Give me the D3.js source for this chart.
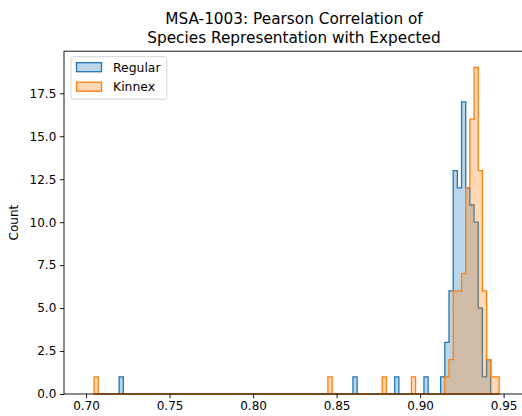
<!DOCTYPE html>
<html>
<head>
<meta charset="utf-8">
<script src="https://cdnjs.cloudflare.com/ajax/libs/d3/7.8.5/d3.min.js"></script>
<style>
  body { margin: 0; background: #fff; }
  svg { display: block; font-family: "DejaVu Sans", sans-serif; }
</style>
</head>
<body>
<div id="chart"></div>
<script>
// histogram bins shared by both series
var binStart = 0.7048;
var binWidth = 0.0025;
var binCount = 97;

// [bin index, count] for the non-empty bins
var regularBins = [[6, 1], [62, 1], [72, 1], [79, 1], [83, 1], [84, 3], [85, 6], [86, 13],
  [87, 12], [88, 17], [89, 12], [90, 11], [91, 10], [92, 5], [93, 1], [94, 2]];
var kinnexBins = [[0, 1], [56, 1], [69, 1], [76, 1], [84, 1], [85, 2], [86, 6], [87, 6],
  [88, 7], [89, 12], [90, 16], [91, 19], [92, 13], [93, 6], [94, 2], [95, 1], [96, 1]];

var seriesNames = ["Regular", "Kinnex"];
var xTicks = [0.70, 0.75, 0.80, 0.85, 0.90, 0.95];
var yTicks = [0, 2.5, 5, 7.5, 10, 12.5, 15, 17.5];
var titleLines = ["MSA-1003: Pearson Correlation of", "Species Representation with Expected"];

(function () {
  'use strict';

  var colours = ["#1f77b4", "#ff7f0e"];

  var width = 522, height = 416;
  var m = { left: 64, right: 524, top: 51.2, bottom: 394 };

  var svg = d3.select("#chart").append("svg")
    .attr("width", width)
    .attr("height", height);

  var x = d3.scaleLinear().domain([0.6868, 0.9622]).range([m.left, m.right]);
  var y = d3.scaleLinear().domain([0, 19.95]).range([m.bottom, m.top]);

  function toCounts(pairs) {
    var counts = new Array(binCount).fill(0);
    pairs.forEach(function(p) { counts[p[0]] = p[1]; });
    return counts;
  }

  function stepPoints(counts) {
    var pts = [[binStart, 0]];
    counts.forEach(function(c, i) {
      var e0 = binStart + i * binWidth;
      pts.push([e0, c]);
      pts.push([e0 + binWidth, c]);
    });
    pts.push([binStart + binCount * binWidth, 0]);
    return pts;
  }

  var line = d3.line()
    .x(function(d) { return x(d[0]); })
    .y(function(d) { return y(d[1]); });

  var plot = svg.append("g");

  [regularBins, kinnexBins].forEach(function(bins, i) {
    plot.append("path")
      .attr("d", line(stepPoints(toCounts(bins))) + "Z")
      .attr("fill", colours[i])
      .attr("fill-opacity", 0.3)
      .attr("stroke", colours[i])
      .attr("stroke-width", 1.3)
      .attr("stroke-linejoin", "miter");
  });

  // axes
  var xAxis = svg.append("g")
    .attr("transform", "translate(0," + m.bottom + ")")
    .call(d3.axisBottom(x).tickValues(xTicks).tickFormat(d3.format(".2f"))
      .tickSize(4.2).tickPadding(3.5).tickSizeOuter(0));

  var yAxis = svg.append("g")
    .attr("transform", "translate(" + m.left + ",0)")
    .call(d3.axisLeft(y).tickValues(yTicks).tickFormat(d3.format(".1f"))
      .tickSize(4.2).tickPadding(3.5).tickSizeOuter(0));

  [xAxis, yAxis].forEach(function(a) {
    a.select(".domain").remove();
    a.selectAll("text").attr("font-size", 12).attr("fill", "#000")
      .attr("font-family", "DejaVu Sans, sans-serif");
    a.selectAll("line").attr("stroke", "#000").attr("stroke-width", 0.9);
  });

  // spines
  svg.append("rect")
    .attr("x", m.left).attr("y", m.top)
    .attr("width", m.right - m.left).attr("height", m.bottom - m.top)
    .attr("fill", "none").attr("stroke", "#000").attr("stroke-width", 0.9);

  // y label
  svg.append("text")
    .attr("transform", "translate(18," + ((m.top + m.bottom) / 2) + ") rotate(-90)")
    .attr("text-anchor", "middle")
    .attr("font-size", 12)
    .text("Count");

  // title
  svg.append("g").selectAll("text")
    .data(titleLines)
    .enter().append("text")
    .attr("x", (m.left + m.right) / 2)
    .attr("y", function(d, i) { return 23.5 + i * 19.5; })
    .attr("text-anchor", "middle")
    .attr("font-size", 15.3)
    .text(function(d) { return d; });

  // legend
  var legend = svg.append("g");
  legend.append("rect")
    .attr("x", 71).attr("y", 56.7)
    .attr("width", 95.7).attr("height", 42.6)
    .attr("rx", 2.5)
    .attr("fill", "#fff").attr("fill-opacity", 0.8)
    .attr("stroke", "#d0d0d0").attr("stroke-width", 0.9);

  seriesNames.forEach(function(name, i) {
    var ly = 62.7 + i * 19.5;
    legend.append("rect")
      .attr("x", 76.5).attr("y", ly)
      .attr("width", 25).attr("height", 9)
      .attr("fill", colours[i]).attr("fill-opacity", 0.3)
      .attr("stroke", colours[i]).attr("stroke-width", 1.3);
    legend.append("text")
      .attr("x", 113)
      .attr("y", ly + 8.8)
      .attr("font-size", 12.4)
      .text(name);
  });
}());
</script>
</body>
</html>
